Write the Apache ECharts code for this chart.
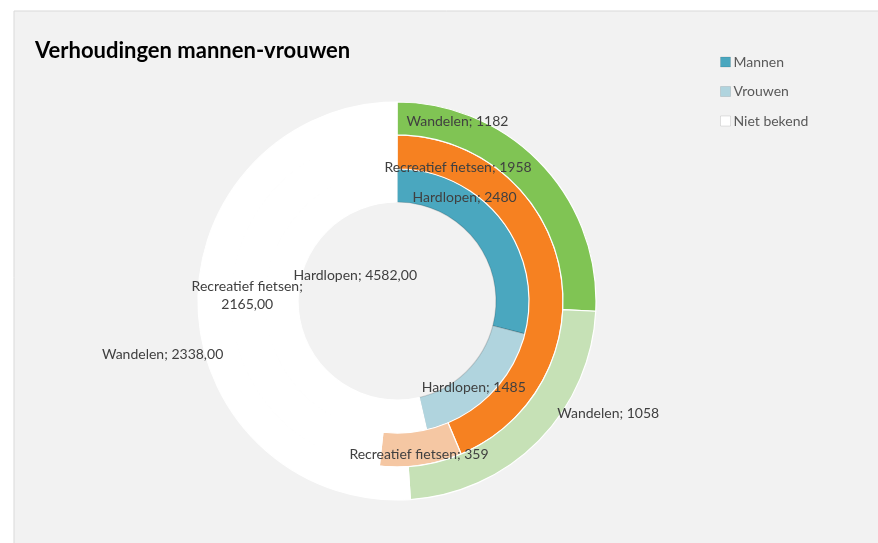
<!DOCTYPE html>
<html>
<head>
<meta charset="utf-8">
<script src="https://cdn.jsdelivr.net/npm/echarts@6/dist/echarts.min.js"></script>
<style>
  html, body { margin: 0; padding: 0; background: #fff; }
  .box { width: 878px; height: 543px; }
</style>
</head>
<body>
<div class="box"></div>
<script>
// 数据
var ringNames = ['Hardlopen', 'Recreatief fietsen', 'Wandelen'];
var categories = ['Mannen', 'Vrouwen', 'Niet bekend'];
var hardlopen = [2480, 1485, 4582];
var fietsen = [1958, 359, 2165];
var wandelen = [1182, 1058, 2338];
var ringValues = [hardlopen, fietsen, wandelen];

// kleuren per ring: mannen, vrouwen, niet bekend
var ringColors = [
  ['#4aa7bf', '#b0d4de', '#ffffff'],
  ['#f68121', '#f5c7a3', '#ffffff'],
  ['#80c454', '#c6e1b6', '#ffffff']
];
var ringRadius = [[99, 132], [132, 166], [166, 199]];
// verschuiving van de labels (zoals in Excel versleept)
var labelOffsets = [
  [[-26, -31], [-6, 2], [76, -39]],
  [[-88, -104], [0, 3], [2, 3]],
  [[-74, -52], [79, -18], [-49, 47]]
];

var mychart = echarts.init(document.querySelector('.box'));

var series = [];
for (var i = 0; i < ringNames.length; i++) {
  var data = [];
  for (var j = 0; j < categories.length; j++) {
    var border = (i === 0 && j < 2) ? 'rgba(0,0,0,0.15)' : '#ffffff';
    data.push({
      name: categories[j],
      value: ringValues[i][j],
      itemStyle: { color: ringColors[i][j], borderColor: border, borderWidth: 1.2 }
    });
  }
  series.push({
    name: ringNames[i],
    type: 'pie',
    center: [397, 301],
    radius: ringRadius[i],
    startAngle: 90,
    avoidLabelOverlap: false,
    emphasis: { scale: false },
    label: {
      show: true,
      position: 'inside',
      overflow: 'none',
      color: '#404040',
      fontSize: 14,
      lineHeight: 18,
      fontFamily: 'Lato',
      formatter: function (p) {
        if (p.dataIndex === 2) {
          var v = p.value.toFixed(2).replace('.', ',');
          var sep = p.seriesName.length > 12 ? ';\n' : '; ';
          return p.seriesName + sep + v;
        }
        return p.seriesName + '; ' + p.value;
      }
    },
    labelLine: { show: false },
    labelLayout: function (p) {
      var o = labelOffsets[p.seriesIndex][p.dataIndex];
      return { dx: o[0], dy: o[1] };
    },
    data: data
  });
}

var option = {
  backgroundColor: '#ffffff',
  graphic: [{
    type: 'rect',
    z: -10,
    silent: true,
    shape: { x: 14, y: 11, width: 880, height: 540 },
    style: { fill: '#f2f2f2', stroke: '#d9d9d9', lineWidth: 1 }
  }],
  title: {
    text: 'Verhoudingen mannen-vrouwen',
    left: 30,
    top: 35,
    textStyle: { color: '#000', fontSize: 22, fontWeight: 'bold', fontFamily: 'Lato' }
  },
  legend: {
    orient: 'vertical',
    left: 715,
    top: 49,
    itemWidth: 10,
    itemHeight: 10,
    itemGap: 13.5,
    icon: 'rect',
    data: categories,
    itemStyle: { borderColor: 'rgba(0,0,0,0.1)', borderWidth: 1 },
    textStyle: { color: '#595959', fontSize: 14, lineHeight: 16, fontFamily: 'Lato', padding: [0, 0, 0, -2] }
  },
  series: series
};
mychart.setOption(option);
window.addEventListener('resize', function () {
  mychart.resize();
});
</script>
</body>
</html>
